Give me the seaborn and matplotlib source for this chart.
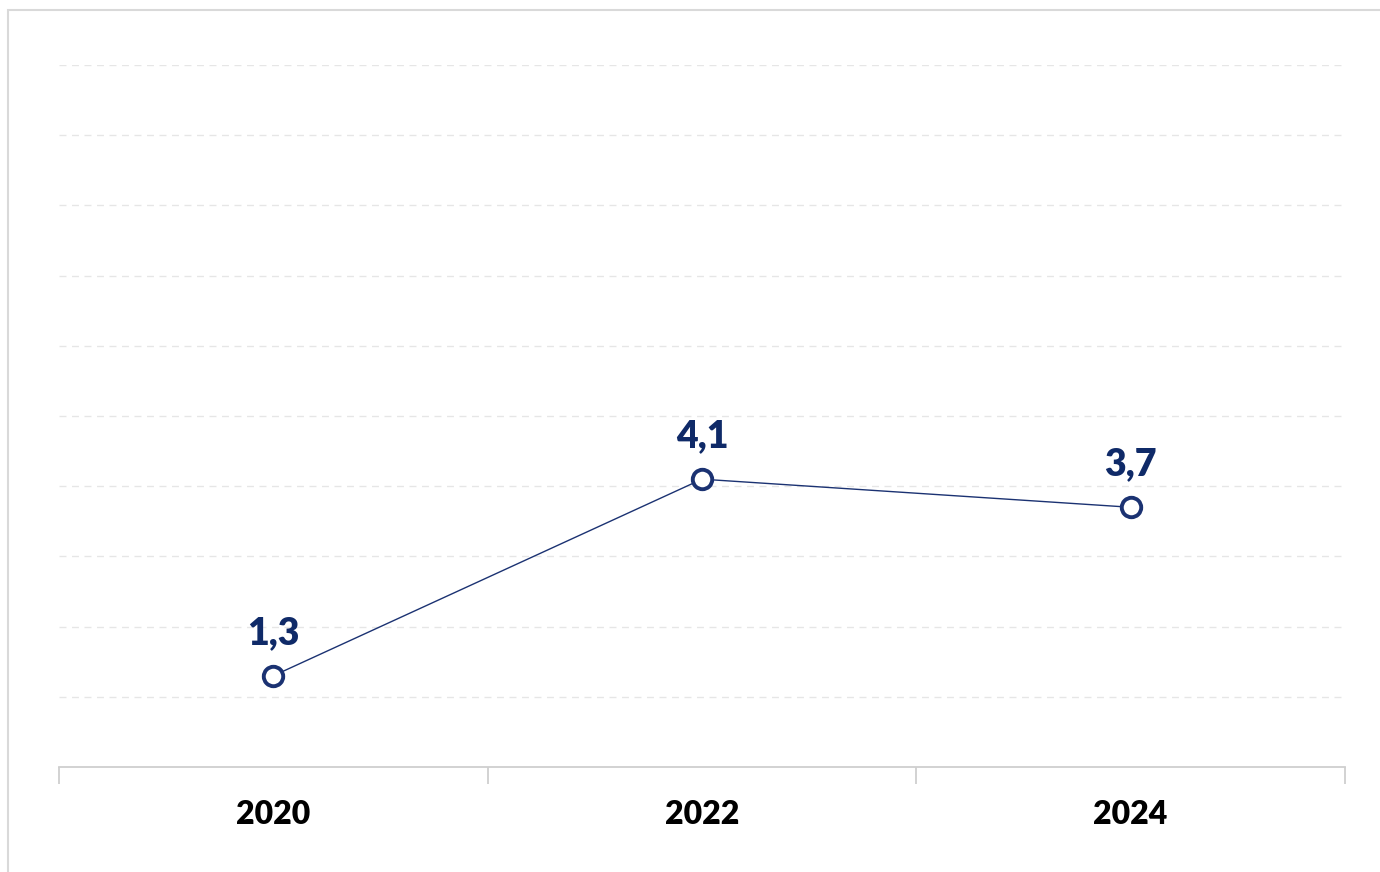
import matplotlib
matplotlib.use("Agg")
import matplotlib.pyplot as plt
from matplotlib.patches import Rectangle
import seaborn as sns
import pandas as pd

years = ["2020", "2022", "2024"]
values = [1.3, 4.1, 3.7]
labels = ["1,3", "4,1", "3,7"]

sns.set_theme(style="white")
plt.rcParams['font.family'] = ['Lato', 'DejaVu Sans']

navy = "#1b3272"
text_navy = "#0f2a68"

fig = plt.figure(figsize=(13.8, 8.72), dpi=100)
ax = fig.add_axes([59/1380, 1-767/872, (1345-59)/1380, (767-65)/872])

df = pd.DataFrame({"year": years, "value": values})
sns.lineplot(data=df, x="year", y="value", ax=ax, color=navy, linewidth=1.0,
             marker="o", markersize=14, markerfacecolor="white",
             markeredgecolor=navy, markeredgewidth=2.8, zorder=3)

ax.set_xlim(-0.5, 2.5)
ax.set_ylim(0, 10)
ax.set_yticks(range(0, 11))
ax.yaxis.grid(True, color="#e6e6e6", linestyle=(0, (5, 4)), linewidth=1.0)
ax.set_yticklabels([])
ax.tick_params(axis="y", length=0)
for s in ["top", "right", "left"]:
    ax.spines[s].set_visible(False)
ax.spines["bottom"].set_color("#cfcfcf")
ax.spines["bottom"].set_linewidth(1.3)

ax.set_xticks(range(len(years)))
ax.set_xticklabels(years, fontsize=23, fontweight="heavy", color="black")
ax.set_xticks([-0.5, 0.5, 1.5, 2.5], minor=True)
ax.tick_params(axis="x", which="major", length=0, pad=24)
ax.tick_params(axis="x", which="minor", length=12, width=1.3, color="#cfcfcf", bottom=True)
ax.set_xlabel("")
ax.set_ylabel("")

for i, (v, lab) in enumerate(zip(values, labels)):
    ax.annotate(lab, (i, v), xytext=(0, 23), textcoords="offset points",
                ha="center", va="baseline", fontsize=27, fontweight="heavy", color=text_navy)

fig.patches.append(Rectangle((8/1380, -0.1), 1.2, 1 - 10/872 + 0.1, transform=fig.transFigure,
                             fill=False, edgecolor="#d9d9d9", linewidth=1.5, zorder=0))

fig.savefig("out.png", dpi=100)
